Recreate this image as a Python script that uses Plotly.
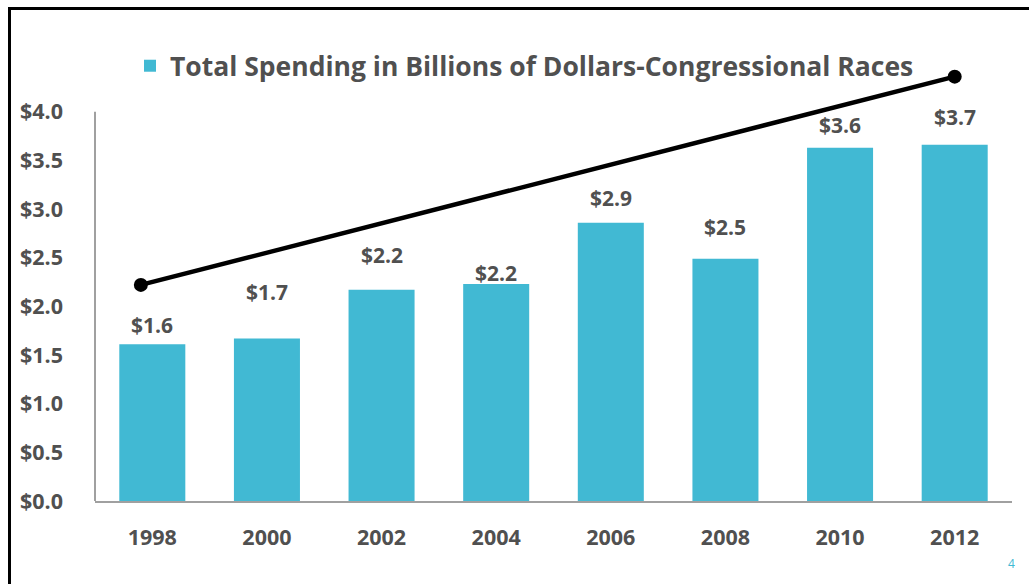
import plotly.graph_objects as go

# Congressional race spending, billions of dollars
years = ["1998", "2000", "2002", "2004", "2006", "2008", "2010", "2012"]
spending = [1.61, 1.67, 2.17, 2.23, 2.86, 2.49, 3.63, 3.66]

# Upward trend arrow drawn across the bars (category index, value)
trend_x = [-0.1, 7.0]
trend_y = [2.22, 4.36]

y_ticks = [0.0, 0.5, 1.0, 1.5, 2.0, 2.5, 3.0, 3.5, 4.0]

series_name = "Total Spending in Billions of Dollars-Congressional Races"

BAR = "#41B9D3"
TEXT = "#505050"
AXIS = "#A0A0A0"
FONT = "Open Sans"

W, H = 1029, 584
ML, MR, MT, MB = 95, 17, 63, 83
Y_TOP = 4.5

# pixel lift of each value label above its bar
label_lift = [19, 46, 35, 11, 25, 32, 23, 28]

idx = list(range(len(years)))

pw = W - ML - MR
ph = H - MT - MB


def px_to_paper_x(px):
    return (px - ML) / pw


def px_to_paper_y(py):
    return (H - MB - py) / ph


fig = go.Figure()
fig.add_trace(go.Bar(
    x=idx, y=spending, name=series_name,
    marker=dict(color=BAR, line=dict(width=0)),
    showlegend=True,
))
fig.add_trace(go.Scatter(
    x=trend_x, y=trend_y, mode="lines+markers",
    line=dict(color="black", width=4.5),
    marker=dict(color="black", size=14),
    cliponaxis=False, showlegend=False, hoverinfo="skip",
))

annotations = []
for i, v in enumerate(spending):
    annotations.append(dict(
        x=i, y=v, xref="x", yref="y", text=f"${v:.1f}",
        showarrow=False, yanchor="middle", yshift=label_lift[i],
        font=dict(family=FONT, size=21, color=TEXT, weight="bold"),
    ))
# page number in the corner
annotations.append(dict(
    x=px_to_paper_x(1011), y=px_to_paper_y(563), xref="paper", yref="paper",
    xanchor="center", yanchor="middle",
    text="4", showarrow=False,
    font=dict(family=FONT, size=12, color=BAR),
))

shapes = [
    # value axis line stops at the top tick
    dict(type="line", xref="paper", yref="y", x0=0, x1=0, y0=0, y1=4.0,
         line=dict(color=AXIS, width=2)),
    # outer frame
    dict(type="rect", xref="paper", yref="paper",
         x0=px_to_paper_x(9.5), x1=px_to_paper_x(W + 20),
         y0=px_to_paper_y(H + 20), y1=px_to_paper_y(8.5),
         line=dict(color="black", width=3), layer="above"),
]

fig.update_layout(
    width=W, height=H,
    margin=dict(l=ML, r=MR, t=MT, b=MB),
    paper_bgcolor="white", plot_bgcolor="white",
    bargap=0.424,
    font=dict(family=FONT, color=TEXT),
    legend=dict(
        orientation="h", x=px_to_paper_x(130), xanchor="left",
        y=px_to_paper_y(66), yanchor="middle",
        font=dict(family=FONT, size=26.5, color=TEXT, weight="bold"),
        bgcolor="rgba(0,0,0,0)",
    ),
    xaxis=dict(
        range=[-0.5, len(years) - 0.5],
        tickmode="array", tickvals=idx, ticktext=years,
        showline=True, linecolor=AXIS, linewidth=2,
        showgrid=False, zeroline=False, ticks="",
        ticklabelstandoff=16,
        tickfont=dict(family=FONT, size=21.5, color=TEXT, weight="bold"),
        fixedrange=True,
    ),
    yaxis=dict(
        range=[0, Y_TOP],
        tickmode="array", tickvals=y_ticks,
        ticktext=[f"${t:.1f}" for t in y_ticks],
        showline=False, showgrid=False, zeroline=False, ticks="",
        ticklabelstandoff=31,
        tickfont=dict(family=FONT, size=21.5, color=TEXT, weight="bold"),
        fixedrange=True,
    ),
    annotations=annotations,
    shapes=shapes,
)

fig.write_html("out.html")
